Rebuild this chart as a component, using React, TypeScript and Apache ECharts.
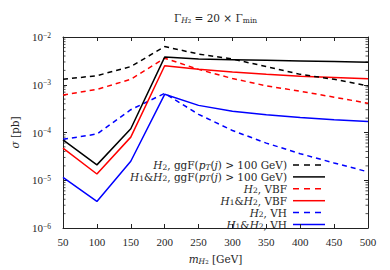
import React, { useEffect, useRef } from "react";
import * as echarts from "echarts";

const masses = [50, 100, 150, 200, 250, 300, 350, 400, 450, 500];
const h2GgF = [1.3e-3, 1.55e-3, 2.4e-3, 6.3e-3, 4.4e-3, 3.45e-3, 2.4e-3, 1.65e-3, 1.3e-3, 9.5e-4];
const h1h2GgF = [7e-5, 2.1e-5, 1.2e-4, 3.8e-3, 3.45e-3, 3.35e-3, 3.25e-3, 3.15e-3, 3.05e-3, 2.95e-3];
const h2VBF = [6.1e-4, 8e-4, 1.3e-3, 3.6e-3, 2.1e-3, 1.35e-3, 9.5e-4, 7.3e-4, 5.5e-4, 4.1e-4];
const h1h2VBF = [4.7e-5, 1.35e-5, 8e-5, 2.5e-3, 2.1e-3, 1.85e-3, 1.65e-3, 1.5e-3, 1.42e-3, 1.34e-3];
const h2VH = [7.2e-5, 9.3e-5, 3.0e-4, 6.6e-4, 2.4e-4, 1.1e-4, 6.0e-5, 3.6e-5, 2.3e-5, 1.5e-5];
const h1h2VH = [1.15e-5, 3.6e-6, 2.5e-5, 6.3e-4, 3.7e-4, 2.8e-4, 2.35e-4, 2.05e-4, 1.85e-4, 1.7e-4];

const seriesNames = [
  "H2, ggF(pT(j) > 100 GeV)",
  "H1&H2, ggF(pT(j) > 100 GeV)",
  "H2, VBF",
  "H1&H2, VBF",
  "H2, VH",
  "H1&H2, VH",
];
const legendLabels = [
  "{i|H}{s|2}{n|, ggF(}{i|p}{si|T}{n|(}{i|j}{n|) > 100 GeV)}",
  "{i|H}{s|1}{n|&}{i|H}{s|2}{n|, ggF(}{i|p}{si|T}{n|(}{i|j}{n|) > 100 GeV)}",
  "{i|H}{s|2}{n|, VBF}",
  "{i|H}{s|1}{n|&}{i|H}{s|2}{n|, VBF}",
  "{i|H}{s|2}{n|, VH}",
  "{i|H}{s|1}{n|&}{i|H}{s|2}{n|, VH}",
];
const seriesColors = ["#000000", "#000000", "#ff0000", "#ff0000", "#0000ff", "#0000ff"];
const seriesDashed = [true, false, true, false, true, false];
const seriesValues = [h2GgF, h1h2GgF, h2VBF, h1h2VBF, h2VH, h1h2VH];

const xTickInterval = 50;
const yMin = 1e-6;
const yMax = 1e-2;
const minorMultipliers = [2, 3, 4, 5, 6, 7, 8, 9];
const decades = [1e-6, 1e-5, 1e-4, 1e-3];

const titleText = "{g|Γ}{si|H}{ss|2}{n| = 20 × Γ}{s|min}";
const xNameText = "{i|m}{si|H}{ss|2}{n| [GeV]}";
const yNameText = "{i|σ}{n| [pb]}";

const FONT = "'DejaVu Serif', 'Liberation Serif', serif";
const NUMFONT = "'Liberation Serif', serif";
const TEXT = "#262626";
const AXIS = "#222222";

const rich = {
  n: { fontFamily: FONT, fontSize: 10.5, color: TEXT, fill: TEXT, lineHeight: 12 },
  g: { fontFamily: FONT, fontSize: 10.5, color: TEXT, fill: TEXT, lineHeight: 12 },
  i: { fontFamily: FONT, fontSize: 10.5, fontStyle: "italic", color: TEXT, fill: TEXT, lineHeight: 12 },
  s: { fontFamily: FONT, fontSize: 7.5, color: TEXT, fill: TEXT, lineHeight: 7, verticalAlign: "bottom" },
  si: { fontFamily: FONT, fontSize: 7.5, fontStyle: "italic", color: TEXT, fill: TEXT, lineHeight: 7, verticalAlign: "bottom" },
  ss: { fontFamily: FONT, fontSize: 5.5, color: TEXT, fill: TEXT, lineHeight: 4, verticalAlign: "bottom" },
};
const supRich = {
  b: { fontFamily: NUMFONT, fontSize: 11, color: TEXT, lineHeight: 12 },
  p: { fontFamily: NUMFONT, fontSize: 7.5, color: TEXT, lineHeight: 7, verticalAlign: "top" },
};

export default function App() {
  const ref = useRef<HTMLDivElement>(null);
  useEffect(() => {
    document.body.style.margin = "0";
    if (!ref.current) return;
    const chart = echarts.init(ref.current, null, { renderer: "svg" });
    const minorTicks: number[][] = [];
    decades.forEach((d) => minorMultipliers.forEach((m) => minorTicks.push([masses[0], m * d])));

    const lineSeries = seriesValues.map((vals, k) => ({
      type: "line",
      name: seriesNames[k],
      data: masses.map((m, j) => [m, vals[j]]),
      showSymbol: false,
      symbol: "none",
      lineStyle: {
        color: seriesColors[k],
        width: 1.5,
        type: seriesDashed[k] ? [5, 4] : "solid",
      },
      itemStyle: { color: seriesColors[k] },
      z: 10 - k,
    }));

    const legendTop = 165;
    const legendStep = 11.9;
    const legendGraphics: any[] = [];
    legendLabels.forEach((lab, k) => {
      const y = legendTop + k * legendStep;
      legendGraphics.push({
        type: "text",
        x: 287,
        y,
        style: { text: lab, rich, align: "right", verticalAlign: "middle", fill: TEXT },
      });
      legendGraphics.push({
        type: "line",
        shape: { x1: 293, y1: y, x2: 325, y2: y },
        style: {
          stroke: seriesColors[k],
          lineWidth: 1.5,
          lineDash: seriesDashed[k] ? [6, 5] : null,
        },
      });
    });

    chart.setOption({
      animation: false,
      grid: { left: 63, right: 22, top: 37, bottom: 39.5 },
      xAxis: [
        {
          type: "value",
          min: masses[0],
          max: masses[masses.length - 1],
          interval: xTickInterval,
          position: "bottom",
          axisLine: { lineStyle: { color: AXIS, width: 1 } },
          axisTick: { inside: true, length: 4, lineStyle: { color: AXIS } },
          axisLabel: { fontFamily: NUMFONT, fontSize: 11, color: TEXT, margin: 8 },
          splitLine: { show: false },
          name: xNameText,
          nameLocation: "middle",
          nameGap: 25,
          nameTextStyle: { rich },
        },
        {
          type: "value",
          min: masses[0],
          max: masses[masses.length - 1],
          interval: xTickInterval,
          position: "top",
          axisLine: { lineStyle: { color: AXIS, width: 1 } },
          axisTick: { inside: true, length: 4, lineStyle: { color: AXIS } },
          axisLabel: { show: false },
          splitLine: { show: false },
        },
      ],
      yAxis: [
        {
          type: "log",
          logBase: 10,
          min: yMin,
          max: yMax,
          position: "left",
          axisLine: { show: true, lineStyle: { color: AXIS, width: 1 } },
          axisTick: { show: true, inside: true, length: 4, lineStyle: { color: AXIS } },
          axisLabel: {
            margin: 12,
            formatter: (v: number) => {
              const e = Math.round(Math.log10(v));
              return "{b|10}{p|" + (e < 0 ? "−" + -e : String(e)) + "}";
            },
            rich: supRich,
          },
          splitLine: { show: false },
          name: yNameText,
          nameLocation: "middle",
          nameGap: 42,
          nameRotate: 90,
          nameTextStyle: { rich },
        },
        {
          type: "log",
          logBase: 10,
          min: yMin,
          max: yMax,
          position: "right",
          axisLine: { show: true, lineStyle: { color: AXIS, width: 1 } },
          axisTick: { show: true, inside: true, length: 4, lineStyle: { color: AXIS } },
          axisLabel: { show: false },
          splitLine: { show: false },
        },
      ],
      series: [
        ...lineSeries,
        {
          type: "custom",
          silent: true,
          clip: false,
          data: minorTicks,
          renderItem: (params: any, api: any) => {
            const cs = params.coordSys;
            const y = api.coord([api.value(0), api.value(1)])[1];
            return {
              type: "group",
              children: [
                { type: "line", shape: { x1: cs.x, y1: y, x2: cs.x + 2.5, y2: y }, style: { stroke: AXIS, lineWidth: 0.8 } },
                { type: "line", shape: { x1: cs.x + cs.width - 2.5, y1: y, x2: cs.x + cs.width, y2: y }, style: { stroke: AXIS, lineWidth: 0.8 } },
              ],
            };
          },
          z: 1,
        },
      ],
      graphic: [
        {
          type: "text",
          x: 215.5,
          y: 18,
          style: { text: titleText, rich, align: "center", verticalAlign: "middle", fill: TEXT },
        },
        ...legendGraphics,
      ],
    });
    return () => chart.dispose();
  }, []);
  return <div ref={ref} style={{ width: 390, height: 270 }} />;
}
